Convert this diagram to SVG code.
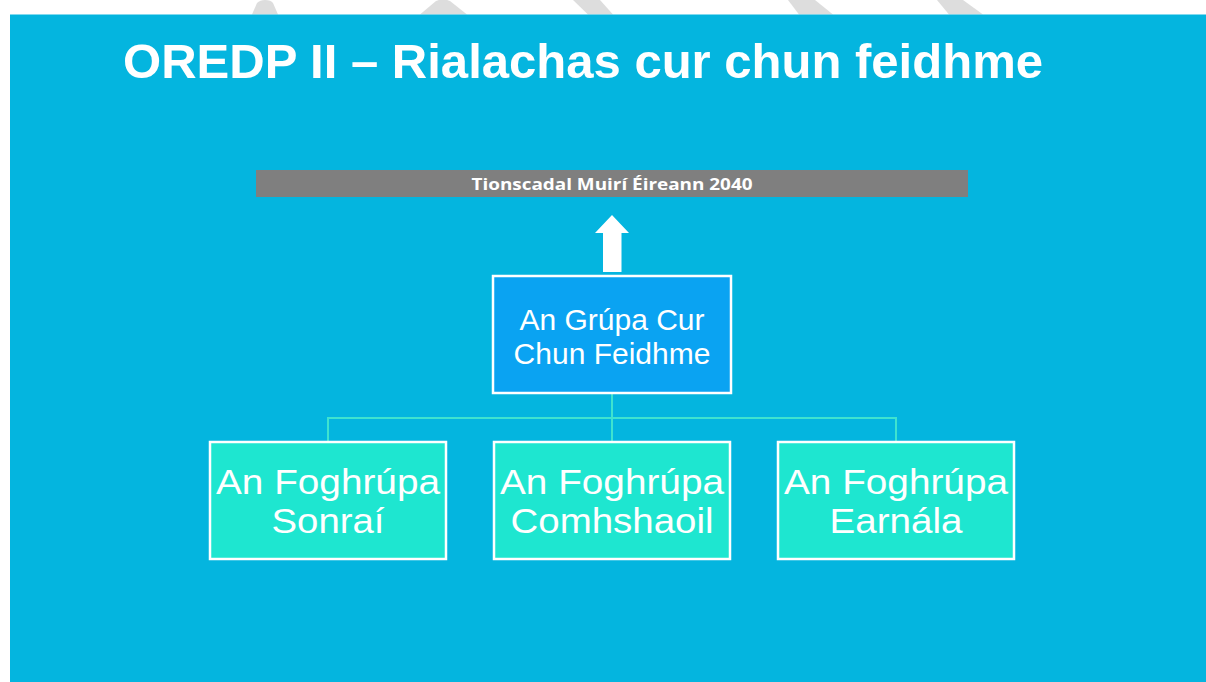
<svg xmlns="http://www.w3.org/2000/svg" width="1206" height="682" viewBox="0 0 1206 682">
  <style>
    .title { font-family: "Liberation Sans", Arial, sans-serif; font-weight: bold; font-size: 49px; fill: #ffffff; }
    .bar { font-family: "Open Sans", "Liberation Sans", sans-serif; font-weight: bold; font-size: 16px; fill: #ffffff; }
    .mid { font-family: "Liberation Sans", Arial, sans-serif; font-size: 30px; fill: #ffffff; text-anchor: middle; }
    .sub { font-family: "Liberation Sans", Arial, sans-serif; font-size: 34.5px; fill: #ffffff; text-anchor: middle; }
    .box { stroke: #ffffff; stroke-width: 2.5; }
    .conn { stroke: #3fe3cf; stroke-width: 2; fill: none; }
    .wm { fill: #dddddd; }
  </style>
  <rect x="0" y="0" width="1206" height="682" fill="#ffffff"/>
  <g id="watermark">
    <path class="wm" d="M252,14.5 L257,3 Q260,0 265,0 Q271,0 273,3 L278,14.5 Z"/>
    <path class="wm" d="M420,14.5 L436,1 Q443,-2 450,1 L467,14.5 Z"/>
    <path class="wm" d="M573,0 L600,0 L613,14.5 L588,14.5 Z"/>
    <path class="wm" d="M788,0 L815,0 L833,14.5 L799,14.5 Z"/>
    <path class="wm" d="M937,0 L963,0 L983,14.5 L949,14.5 Z"/>
  </g>
  <rect id="background" x="10" y="14.5" width="1196" height="667.5" fill="#04b5df"/>
  <text class="title" x="123" y="78" textLength="920" lengthAdjust="spacingAndGlyphs">OREDP II – Rialachas cur chun feidhme</text>

  <g id="node-tionscadal">
    <rect x="256" y="170" width="712" height="27" fill="#7f7f7f"/>
    <text class="bar" x="612" y="190" text-anchor="middle" textLength="281" lengthAdjust="spacingAndGlyphs">Tionscadal Muirí Éireann 2040</text>
  </g>

  <g id="connectors">
    <path id="arrow-up" d="M603,272 L603,233 L595,233 L612,215 L629,233 L621.5,233 L621.5,272 Z" fill="#ffffff"/>
    <path class="conn" d="M612,393 L612,442"/>
    <path class="conn" d="M328,442 L328,418 L896,418 L896,442"/>
  </g>

  <g id="node-grupa">
    <rect class="box" x="493" y="276" width="238" height="117" fill="#0aa3f2"/>
    <text class="mid" x="612" y="330">An Grúpa Cur</text>
    <text class="mid" x="612" y="364">Chun Feidhme</text>
  </g>

  <g id="node-sonrai">
    <rect class="box" x="210" y="442" width="236" height="117" fill="#1ee6d0"/>
    <text class="sub" x="328" y="494" textLength="224" lengthAdjust="spacingAndGlyphs">An Foghrúpa</text>
    <text class="sub" x="328" y="533" textLength="113" lengthAdjust="spacingAndGlyphs">Sonraí</text>
  </g>

  <g id="node-comhshaoil">
    <rect class="box" x="494" y="442" width="236" height="117" fill="#1ee6d0"/>
    <text class="sub" x="612" y="494" textLength="224" lengthAdjust="spacingAndGlyphs">An Foghrúpa</text>
    <text class="sub" x="612" y="533" textLength="203" lengthAdjust="spacingAndGlyphs">Comhshaoil</text>
  </g>

  <g id="node-earnala">
    <rect class="box" x="778" y="442" width="236" height="117" fill="#1ee6d0"/>
    <text class="sub" x="896" y="494" textLength="224" lengthAdjust="spacingAndGlyphs">An Foghrúpa</text>
    <text class="sub" x="896" y="533" textLength="133" lengthAdjust="spacingAndGlyphs">Earnála</text>
  </g>
</svg>
